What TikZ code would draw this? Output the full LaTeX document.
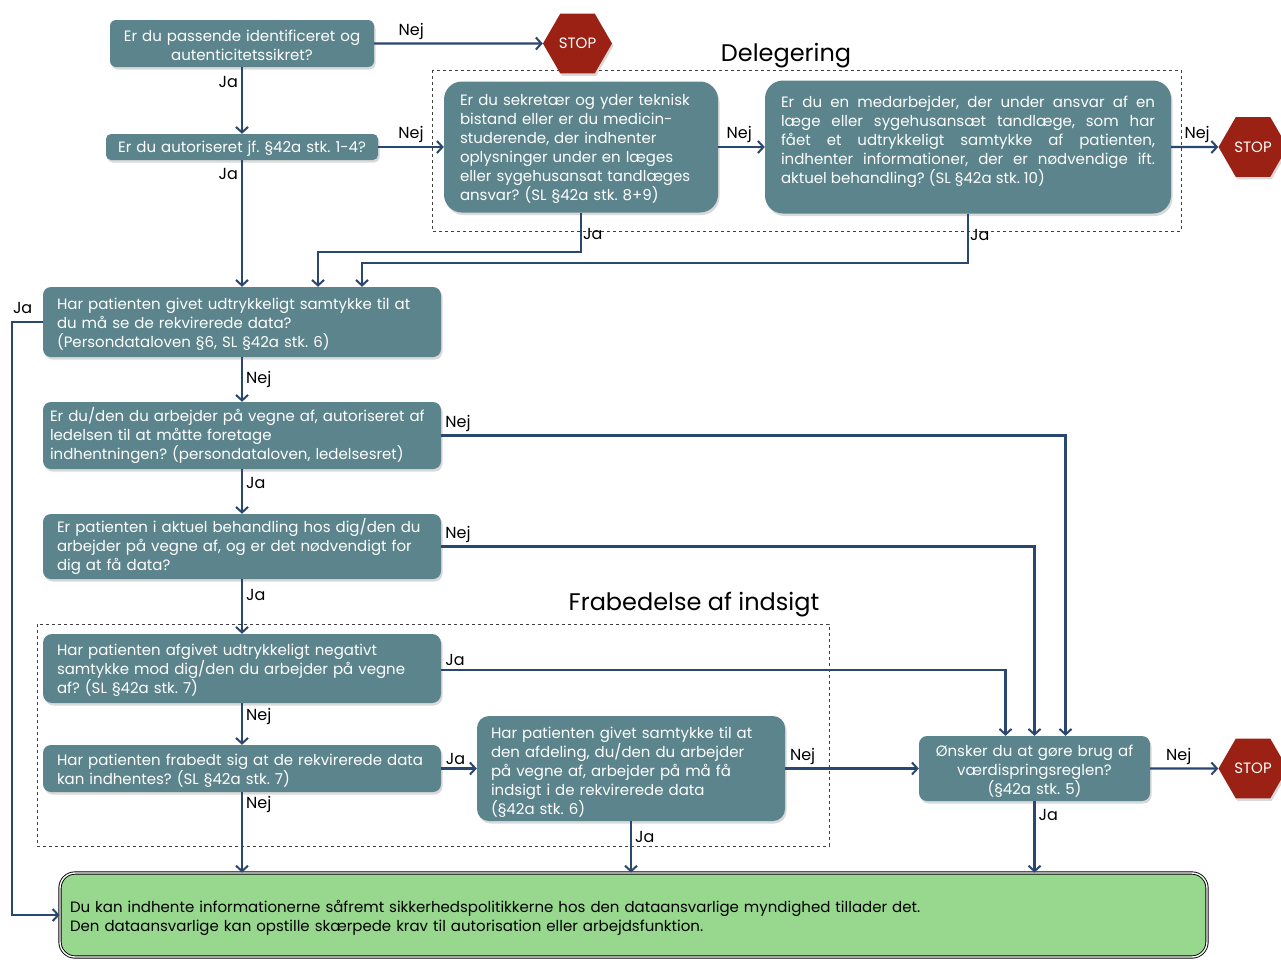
\documentclass[tikz,border=0pt]{standalone}
\usepackage{fontspec}
\setmainfont{Poppins}
\usetikzlibrary{arrows.meta,shapes.geometric,shadows}
\definecolor{boxc}{HTML}{5B848C}
\definecolor{stopc}{HTML}{9A2113}
\definecolor{linec}{HTML}{2A4770}
\definecolor{okc}{HTML}{97D88E}
\definecolor{framec}{HTML}{404040}
\frenchspacing

\begin{document}
\begin{tikzpicture}[x=1pt,y=-1pt,
  q/.style={fill=boxc, text=white, font=\fontsize{15}{19}\selectfont,
    inner ysep=0pt, align=left,
    execute at begin node={\rule{0pt}{15pt}},
    drop shadow={opacity=0.3,shadow xshift=1.5pt,shadow yshift=-2.5pt}},
  stopsign/.style={regular polygon, regular polygon sides=6, minimum size=69pt,
    inner sep=0pt, fill=stopc, text=white, font=\fontsize{15}{15}\selectfont,
    drop shadow={opacity=0.3,shadow xshift=1.5pt,shadow yshift=-2.5pt}},
  arr/.style={draw=linec, line width=2.3pt,
    -{Straight Barb[length=5.5pt,width=12pt,line width=2pt]}},
  lbl/.style={text=black, font=\fontsize{16}{16}\selectfont, inner sep=3pt},
  groupframe/.style={draw=framec, dashed, line width=1pt},
  grouptitle/.style={font=\fontsize{24}{24}\selectfont, inner sep=0pt}
]
\useasboundingbox (0,0) rectangle (1281,959);

% group frames
\draw[groupframe] (432,70) rectangle (1181,231);
\node[grouptitle] (delt) at (786,56) {Delegering};
\draw[groupframe] (37,624) rectangle (829,846);
\node[grouptitle] (frat) at (694,605) {Frabedelse af indsigt};

% question boxes
\node[q, rounded corners=6pt, align=center, minimum width=264pt, minimum height=47pt, text width=250pt, inner xsep=7pt]
  (A) at (242,43.5) {Er du passende identificeret og\\autenticitetssikret?};
\node[q, rounded corners=5pt, align=center, minimum width=272pt, minimum height=26pt, text width=260pt, inner xsep=6pt]
  (B) at (242,147) {Er du autoriseret jf. §42a stk. 1-4?};
\node[q, rounded corners=18pt, minimum width=274pt, minimum height=131pt, text width=242pt, inner xsep=16pt]
  (C) at (581,147) {Er du sekretær og yder teknisk\\bistand eller er du medicin-\\studerende, der indhenter\\oplysninger under en læges\\eller sygehusansat tandlæges\\ansvar? (SL §42a stk. 8+9)};
\node[q, rounded corners=18pt, align=justify, minimum width=406pt, minimum height=133pt, text width=374pt, inner xsep=16pt]
  (D) at (968,147) {Er du en medarbejder, der under ansvar af en\linebreak læge eller sygehusansæt tandlæge, som har\linebreak fået et udtrykkeligt samtykke af patienten,\linebreak indhenter informationer, der er nødvendige ift.\linebreak aktuel behandling? (SL §42a stk. 10)\par\mbox{}};
\node[q, rounded corners=8pt, minimum width=398pt, minimum height=70pt, text width=370pt, inner xsep=14pt]
  (E) at (242,322) {Har patienten givet udtrykkeligt samtykke til at\\du må se de rekvirerede data?\\(Persondataloven §6, SL §42a stk. 6)};
\node[q, rounded corners=8pt, minimum width=398pt, minimum height=67pt, text width=384pt, inner xsep=7pt]
  (F) at (242,435.5) {Er du/den du arbejder på vegne af, autoriseret af\\ledelsen til at måtte foretage\\indhentningen? (persondataloven, ledelsesret)};
\node[q, rounded corners=8pt, minimum width=398pt, minimum height=65pt, text width=370pt, inner xsep=14pt]
  (G) at (242,546.5) {Er patienten i aktuel behandling hos dig/den du\\arbejder på vegne af, og er det nødvendigt for\\dig at få data?};
\node[q, rounded corners=9pt, minimum width=398pt, minimum height=69pt, text width=370pt, inner xsep=14pt]
  (H) at (242,668.5) {Har patienten afgivet udtrykkeligt negativt\\samtykke mod dig/den du arbejder på vegne\\af? (SL §42a stk. 7)};
\node[q, rounded corners=8pt, minimum width=398pt, minimum height=47pt, text width=370pt, inner xsep=14pt]
  (I) at (242,768.5) {Har patienten frabedt sig at de rekvirerede data\\kan indhentes? (SL §42a stk. 7)};
\node[q, rounded corners=12pt, minimum width=308pt, minimum height=105pt, text width=280pt, inner xsep=14pt,
  execute at begin node={\rule{0pt}{18pt}}]
  (J) at (631,768.5) {Har patienten givet samtykke til at\\den afdeling, du/den du arbejder\\på vegne af, arbejder på må få\\indsigt i de rekvirerede data\\(§42a stk. 6)};
\node[q, rounded corners=8pt, align=center, minimum width=231pt, minimum height=65pt, text width=215pt, inner xsep=8pt,
  execute at begin node={\rule{0pt}{16pt}}]
  (K) at (1034.5,768.5) {Ønsker du at gøre brug af\\værdispringsreglen?\\(§42a stk. 5)};

% outcome box
\node[fill=okc, draw=black, line width=0.9pt, double=white, double distance=1.4pt,
  rounded corners=15pt, minimum width=1147pt, minimum height=84pt, text width=1127pt,
  inner xsep=10pt, inner ysep=0pt, align=left, font=\fontsize{15}{19}\selectfont,
  execute at begin node={\rule{0pt}{19pt}}]
  (L) at (633.5,915) {Du kan indhente informationerne såfremt sikkerhedspolitikkerne hos den dataansvarlige myndighed tillader det.\\Den dataansvarlige kan opstille skærpede krav til autorisation eller arbejdsfunktion.};

% stop signs
\node[stopsign] (S1) at (577.5,43.5) {STOP};
\node[stopsign] (S2) at (1253,147) {STOP};
\node[stopsign] (S3) at (1253,768.5) {STOP};

% connectors
\draw[arr] (A.east) -- node[lbl, pos=0.22, above]{Nej} (S1.west);
\draw[arr] (A.south) -- node[lbl, pos=0.22, left]{Ja} (B.north);
\draw[arr] (B.east) -- node[lbl, pos=0.5, above]{Nej} (C.west);
\draw[arr] (B.south) -- node[lbl, pos=0.11, left]{Ja} (E.north);
\draw[arr] (C.east) -- node[lbl, pos=0.45, above]{Nej} (D.west);
\draw[arr] (D.east) -- node[lbl, pos=0.55, above]{Nej} (S2.west);
\draw[arr] (C.south) -- node[lbl, pos=0.55, right, inner sep=1pt]{Ja} ++(0,39) -| ([xshift=76pt]E.north);
\draw[arr] (D.south) -- node[lbl, pos=0.43, right, inner sep=1pt]{Ja} ++(0,49) -| ([xshift=120pt]E.north);
\draw[arr] (E.west) -- node[lbl, pos=0.65, above, yshift=4pt]{Ja} ++(-31,0) |- (L.west);
\draw[arr] (E.south) -- node[lbl, pos=0.5, right]{Nej} (F.north);
\draw[arr] (F.east) -- node[lbl, pos=0, anchor=south west]{Nej} ++(0,0) -| ([xshift=31pt]K.north);
\draw[arr] (F.south) -- node[lbl, pos=0.31, right]{Ja} (G.north);
\draw[arr] (G.east) -- node[lbl, pos=0, anchor=south west]{Nej} ++(0,0) -| (K.north);
\draw[arr] (G.south) -- node[lbl, pos=0.29, right]{Ja} (H.north);
\draw[arr] ([yshift=-1.5pt]H.east) -- node[lbl, pos=0, anchor=south west]{Ja} ++(0,0) -| ([xshift=-29pt]K.north);
\draw[arr] (H.south) -- node[lbl, pos=0.33, right]{Nej} (I.north);
\draw[arr] (I.east) -- node[lbl, pos=0.4, above]{Ja} (J.west);
\draw[arr] (I.south) -- node[lbl, pos=0.15, right]{Nej} (I.south |- L.north);
\draw[arr] (J.east) -- node[lbl, pos=0.13, above]{Nej} (K.west);
\draw[arr] (J.south) -- node[lbl, pos=0.3, right]{Ja} (J.south |- L.north);
\draw[arr] (K.east) -- node[lbl, pos=0.42, above]{Nej} (S3.west);
\draw[arr] (K.south) -- node[lbl, pos=0.2, right]{Ja} (K.south |- L.north);
\end{tikzpicture}
\end{document}
